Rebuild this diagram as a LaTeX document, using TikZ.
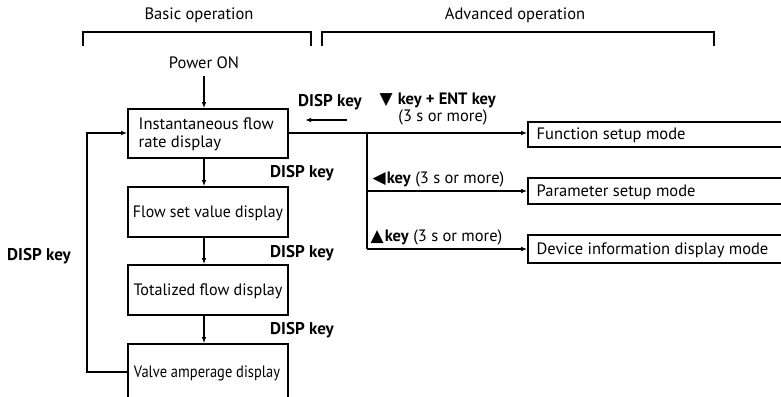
\documentclass[tikz,border=0pt]{standalone}
\usepackage{fontspec}
\usepackage{graphicx}
\setmainfont{PT Sans}
\newfontfamily\symf{DejaVu Sans}
\usetikzlibrary{arrows.meta}
\newcommand{\tri}[1]{{\symf\fontsize{17}{17}\selectfont #1}}
\begin{document}
\begin{tikzpicture}[x=1pt,y=-1pt,
  line width=1.4pt,
  every node/.style={font=\fontsize{16.5}{18}\selectfont, inner sep=0pt},
  box/.style={draw, line width=1.6pt},
  lbl/.style={font=\fontsize{17}{18}\selectfont\bfseries},
  arr/.style={-{Latex[length=6pt,width=4.5pt]}, line width=1.2pt},
  brk/.style={line width=1.6pt}]
\useasboundingbox (0,0) rectangle (781,396);
\clip (0,0) rectangle (781,396);
% headers
\node (hb) at (199,15) {Basic operation};
\node (ha) at (515,15) {Advanced operation};
\draw[brk] (83,46) -- (83,32) -- (311,32) -- (311,46);
\draw[brk] (322,46) -- (322,32) -- (714,32) -- (714,46);
% left column
\node (pw) at (204,63) {Power ON};
\node[box, minimum width=160pt, minimum height=49pt] (b1) at (208,133.5) {};
\node[anchor=west] (t1) at (138,135) {\resizebox{135pt}{\height}{\begin{tabular}{@{}l@{}}Instantaneous flow\\rate display\end{tabular}}};
\node[box, minimum width=160pt, minimum height=50pt] (b2) at (208,212) {};
\node (t2) at (208,213) {\resizebox{150pt}{\height}{Flow set value display}};
\node[box, minimum width=160pt, minimum height=50pt] (b3) at (208,290) {};
\node (t3) at (208,291) {\resizebox{149pt}{\height}{Totalized flow display}};
\node[box, minimum width=160pt, minimum height=54pt] (b4) at (208,371) {};
\node (t4) at (207,373) {\resizebox{146pt}{\height}{Valve amperage display}};
\draw[arr] (pw.south) ++(0,6) -- (pw |- b1.north);
\draw[arr] (pw |- b1.south) -- (pw |- b2.north);
\draw[arr] (pw |- b2.south) -- (pw |- b3.north);
\draw[arr] (pw |- b3.south) -- (pw |- b4.north);
\node[lbl] (d1) at (302,173) {DISP key};
\node[lbl] (d2) at (302,253) {DISP key};
\node[lbl] (d3) at (302,330) {DISP key};
\node[lbl] (d4) at (39,256) {DISP key};
\coordinate (fl) at (87,372);
\coordinate (fu) at (87,133);
\draw[arr] (b4.west |- fl) -- (fl) -- (fu) -- (b1.west |- fu);
% top DISP key
\node[lbl] (d0) at (330,102) {DISP key};
\coordinate (r0) at (347,120);
\coordinate (r1) at (305,120);
\draw[arr] (r0) -- (r1);
% right side
\node[box, minimum width=262pt, minimum height=25pt] (f1) at (659,134.5) {};
\node[anchor=west] (tf1) at (536,135) {Function setup mode};
\node[box, minimum width=262pt, minimum height=26pt] (f2) at (659,191) {};
\node[anchor=west] (tf2) at (536,192) {Parameter setup mode};
\node[box, minimum width=262pt, minimum height=28pt] (f3) at (659,249) {};
\node[anchor=west] (tf3) at (536,250) {Device information display mode};
\coordinate (br) at (367,133);
\coordinate (bp) at (367,191);
\coordinate (bd) at (367,249);
\draw[arr] (b1.east |- br) -- (f1.west |- br);
\draw (br) -- (bd);
\draw[arr] (bp) -- (f2.west |- bp);
\draw[arr] (bd) -- (f3.west |- bd);
\node[anchor=west] (k0) at (379,100) {\tri{▼}\hspace{5pt}\textbf{key + ENT key}};
\node (k0b) at (443,117) {(3 s or more)};
\node[anchor=west] (k1) at (372,179) {\tri{◀}\hspace{1pt}\textbf{key} (3 s or more)};
\node[anchor=west] (k2) at (370,237) {\tri{▲}\hspace{1pt}\textbf{key} (3 s or more)};
\end{tikzpicture}
\end{document}
